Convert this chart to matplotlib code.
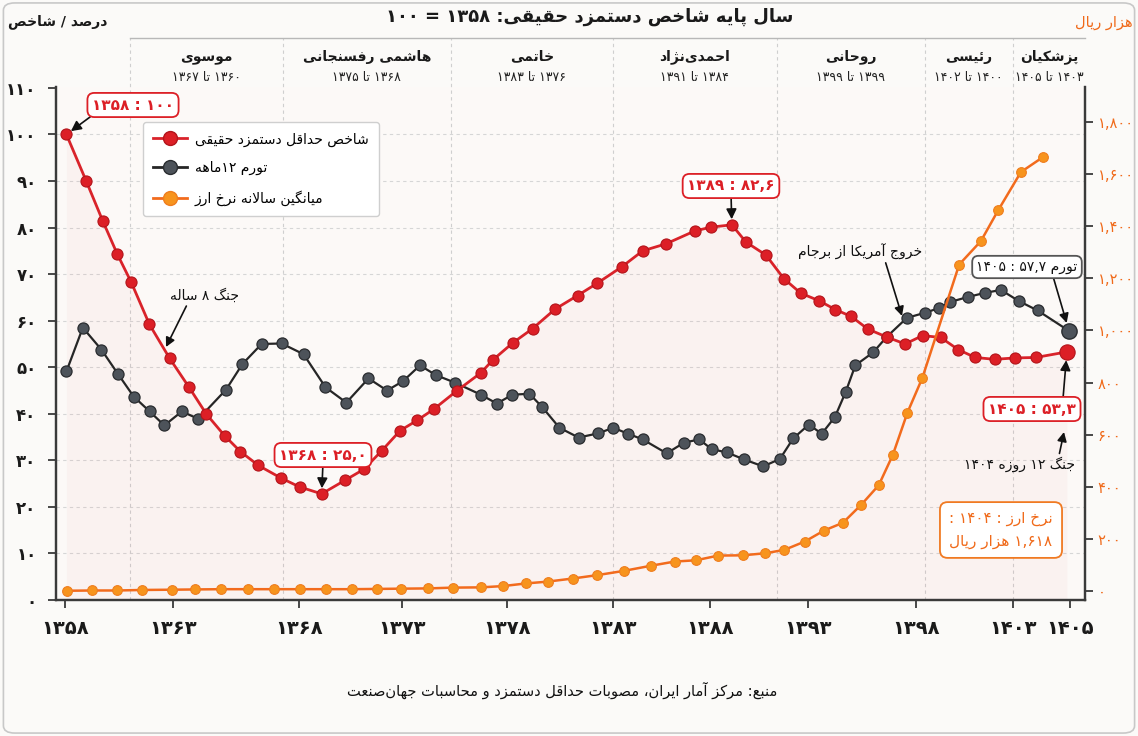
import re
import matplotlib
matplotlib.use("Agg")
import matplotlib.pyplot as plt
import matplotlib.transforms as mtransforms
from matplotlib.lines import Line2D
from matplotlib.patches import FancyBboxPatch

plt.rcParams["font.family"] = ["DejaVu Sans"]

# ---------------- data ----------------
red_x = [1358.00, 1358.92, 1359.70, 1360.39, 1361.04, 1361.90, 1362.85, 1363.76, 1364.58, 1365.43,
         1366.17, 1367.02, 1368.08, 1368.95, 1369.99, 1371.08, 1371.98, 1372.82, 1373.68, 1374.48,
         1375.26, 1376.33, 1377.47, 1378.04, 1378.96, 1379.90, 1380.96, 1382.01, 1382.92, 1384.10,
         1385.07, 1386.16, 1387.53, 1388.30, 1389.26, 1389.92, 1390.86, 1391.71, 1392.50, 1393.35,
         1394.12, 1394.87, 1395.65, 1396.53, 1397.40, 1398.22, 1399.07, 1399.89, 1400.69, 1401.60,
         1402.57, 1403.54, 1405.00]
red_y = [100, 90.1, 81.5, 74.3, 68.3, 59.2, 51.9, 45.7, 39.9, 35.3,
         31.9, 28.9, 26.2, 24.3, 22.8, 25.7, 28.1, 32.1, 36.4, 38.6,
         41.0, 44.9, 48.8, 51.6, 55.2, 58.3, 62.5, 65.4, 68.0, 71.6,
         75.0, 76.5, 79.3, 80.1, 80.6, 76.9, 74.1, 69.0, 65.9, 64.3,
         62.4, 60.9, 58.2, 56.5, 55.0, 56.8, 56.4, 53.8, 52.1, 51.7,
         52.0, 52.1, 53.3]

gray_x = [1358.00, 1358.77, 1359.64, 1360.43, 1361.16, 1361.91, 1362.60, 1363.42, 1364.20, 1365.50,
          1366.27, 1367.17, 1368.11, 1369.14, 1370.17, 1371.15, 1372.19, 1373.06, 1373.81, 1374.61,
          1375.36, 1376.25, 1377.47, 1378.22, 1378.95, 1379.75, 1380.34, 1381.16, 1382.06, 1382.98,
          1383.69, 1384.39, 1385.07, 1386.20, 1387.01, 1387.73, 1388.31, 1389.03, 1389.83, 1390.73,
          1391.52, 1392.14, 1392.88, 1393.48, 1394.10, 1394.60, 1395.06, 1395.90, 1396.53, 1397.48,
          1398.33, 1398.99, 1399.50, 1400.35, 1401.17, 1401.90, 1402.75, 1403.62, 1405.10]
gray_y = [49.1, 58.5, 53.8, 48.5, 43.7, 40.5, 37.5, 40.5, 38.9, 45.2,
          50.7, 55.0, 55.1, 52.8, 45.7, 42.4, 47.6, 45.0, 47.0, 50.4,
          48.3, 46.7, 44.1, 42.2, 44.1, 44.3, 41.5, 37.0, 34.9, 35.8,
          37.0, 35.7, 34.5, 31.5, 33.8, 34.5, 32.4, 31.7, 30.2, 28.7,
          30.3, 34.7, 37.7, 35.7, 39.3, 44.6, 50.4, 53.2, 56.5, 60.6,
          61.7, 62.7, 64.0, 65.1, 66.0, 66.6, 64.2, 62.2, 57.8]

orange_x = [1358.04, 1359.22, 1360.38, 1361.57, 1362.94, 1364.05, 1365.28, 1366.51, 1367.76, 1368.97,
            1370.21, 1371.43, 1372.59, 1373.72, 1375.00, 1376.14, 1377.48, 1378.52, 1379.58, 1380.60,
            1381.79, 1382.94, 1384.17, 1385.46, 1386.57, 1387.58, 1388.62, 1389.78, 1390.84, 1391.73,
            1392.69, 1393.59, 1394.48, 1395.35, 1396.16, 1396.82, 1397.51, 1398.21, 1399.94, 1400.96,
            1401.77, 1402.84, 1403.87]
orange_y = [1, 2, 2, 4, 5, 6, 7, 7, 7, 7,
            7, 7, 8, 9, 10, 13, 14, 19, 29, 36,
            48, 61, 77, 97, 113, 118, 136, 137, 145, 158,
            190, 232, 262, 332, 406, 522, 685, 818, 1253, 1343,
            1461, 1608, 1665]

xtick_pos = [1357.92, 1362.99, 1368.92, 1373.75, 1378.72, 1383.66, 1388.24, 1392.85, 1397.93, 1402.45, 1405.14]
xtick_labels = ["۱۳۵۸", "۱۳۶۳", "۱۳۶۸", "۱۳۷۳", "۱۳۷۸", "۱۳۸۳", "۱۳۸۸", "۱۳۹۳", "۱۳۹۸", "۱۴۰۳", "۱۴۰۵"]
left_ticks = [0, 10, 20, 30, 40, 50, 60, 70, 80, 90, 100, 110]
right_ticks = [0, 200, 400, 600, 800, 1000, 1200, 1400, 1600, 1800]

term_names = ["موسوی", "هاشمی رفسنجانی", "خاتمی", "احمدی\u200cنژاد", "روحانی", "رئیسی", "پزشکیان"]
term_years = ["۱۳۶۰ تا ۱۳۶۷", "۱۳۶۸ تا ۱۳۷۵", "۱۳۷۶ تا ۱۳۸۳", "۱۳۸۴ تا ۱۳۹۱",
              "۱۳۹۹ تا ۱۳۹۹", "۱۴۰۰ تا ۱۴۰۲", "۱۴۰۳ تا ۱۴۰۵"]
term_edges = [1360.98, 1368.17, 1376.06, 1383.67, 1391.37, 1398.32, 1402.45, 1405.85]

legend_labels = ["شاخص حداقل دستمزد حقیقی", "تورم ۱۲ماهه", "میانگین سالانه نرخ ارز"]

RED = "#dc1f26"
GRAY = "#4d535a"
ORANGE = "#f7941d"
ORANGE_TXT = "#f06a1a"

# ---------------- Persian shaping (presentation forms) + simple bidi ----------------
_F = {
    "ا": "\ufe8d\ufe8e", "آ": "\ufe81\ufe82", "د": "\ufea9\ufeaa", "ذ": "\ufeab\ufeac",
    "ر": "\ufead\ufeae", "ز": "\ufeaf\ufeb0", "ژ": "\ufb8a\ufb8b", "و": "\ufeed\ufeee",
    "\ufefb": "\ufefb\ufefc", "\ufef5": "\ufef5\ufef6",
    "ب": "\ufe8f\ufe90\ufe91\ufe92", "پ": "\ufb56\ufb57\ufb58\ufb59", "ت": "\ufe95\ufe96\ufe97\ufe98",
    "ث": "\ufe99\ufe9a\ufe9b\ufe9c", "ج": "\ufe9d\ufe9e\ufe9f\ufea0", "چ": "\ufb7a\ufb7b\ufb7c\ufb7d",
    "ح": "\ufea1\ufea2\ufea3\ufea4", "خ": "\ufea5\ufea6\ufea7\ufea8", "س": "\ufeb1\ufeb2\ufeb3\ufeb4",
    "ش": "\ufeb5\ufeb6\ufeb7\ufeb8", "ص": "\ufeb9\ufeba\ufebb\ufebc", "ض": "\ufebd\ufebe\ufebf\ufec0",
    "ط": "\ufec1\ufec2\ufec3\ufec4", "ظ": "\ufec5\ufec6\ufec7\ufec8", "ع": "\ufec9\ufeca\ufecb\ufecc",
    "غ": "\ufecd\ufece\ufecf\ufed0", "ف": "\ufed1\ufed2\ufed3\ufed4", "ق": "\ufed5\ufed6\ufed7\ufed8",
    "ک": "\ufb8e\ufb8f\ufb90\ufb91", "گ": "\ufb92\ufb93\ufb94\ufb95", "ل": "\ufedd\ufede\ufedf\ufee0",
    "م": "\ufee1\ufee2\ufee3\ufee4", "ن": "\ufee5\ufee6\ufee7\ufee8", "ه": "\ufee9\ufeea\ufeeb\ufeec",
    "ی": "\ufbfc\ufbfd\ufbfe\ufbff", "ئ": "\ufe89\ufe8a\ufe8b\ufe8c",
}
_DIG = "0123456789۰۱۲۳۴۵۶۷۸۹"


def shape(s):
    s = s.replace("لا", "\ufefb").replace("لآ", "\ufef5")
    out = []
    for i, c in enumerate(s):
        f = _F.get(c)
        if f is None:
            if c != "\u200c":
                out.append(c)
            continue
        p = s[i - 1] if i > 0 else ""
        q = s[i + 1] if i + 1 < len(s) else ""
        jp = p in _F and len(_F[p]) == 4
        jn = len(f) == 4 and q in _F
        out.append(f[(1 if jp else 0) + (2 if jn else 0)])
    return "".join(out)


def fa(s):
    lines = []
    for line in s.split("\n"):
        line = shape(line)
        runs = re.findall(r"[0-9۰-۹]+(?:[.,٫][0-9۰-۹]+)*|[^0-9۰-۹]+", line)
        lines.append("".join(r if r[0] in _DIG else r[::-1] for r in reversed(runs)))
    return "\n".join(lines)


def fa_num(n):
    return f"{n:,}".translate(str.maketrans("0123456789", "۰۱۲۳۴۵۶۷۸۹"))


def P(x, y):
    # figure pixel position measured from the top-left corner
    return (x, 736 - y)


# ---------------- figure ----------------
fig = plt.figure(figsize=(11.38, 7.36), dpi=100, facecolor="#fbfaf8")
fig.patches.append(FancyBboxPatch((0.003, 0.004), 0.994, 0.992, boxstyle="round,pad=0,rounding_size=0.01",
                                  transform=fig.transFigure, fill=False, ec="#c8c8c8", lw=1.2))
ax = fig.add_axes([56 / 1138, 136 / 736, 1029 / 1138, 513 / 736])
ax.set_facecolor("#fcf9f7")
ax2 = ax.twinx()

ax.set_xlim(1357.51, 1405.85)
ax.set_ylim(0, 110.2)
ax2.set_ylim(-34.5, 1934.3)

# grid
for yt in left_ticks[1:-1]:
    ax.axhline(yt, color="#d6d6d6", lw=0.8, ls=(0, (3, 3)), zorder=0)
blend = mtransforms.blended_transform_factory(ax.transData, ax.transAxes)
for e in term_edges[:-1]:
    ax.plot([e, e], [0, 1.0955], transform=blend, clip_on=False, color="#cfcfcf", lw=0.8,
            ls=(0, (3, 3)), zorder=0)
ax.plot([term_edges[0], term_edges[-1]], [1.0955, 1.0955], transform=blend, clip_on=False,
        color="#b8b8b8", lw=1.0, zorder=0)

# header with terms
for i, (name, yrs) in enumerate(zip(term_names, term_years)):
    xc = (term_edges[i] + term_edges[i + 1]) / 2
    ax.text(xc, 1.059, fa(name), transform=blend, ha="center", va="center", fontsize=10,
            fontweight="bold", color="#1a1a1a")
    ax.text(xc, 1.019, fa(yrs), transform=blend, ha="center", va="center", fontsize=9, color="#222222")

# series
ax.fill_between(red_x, red_y, 0, color=RED, alpha=0.03, lw=0, zorder=1)
ax.plot(gray_x, gray_y, color="#262626", lw=1.6, marker="o", ms=8, mfc=GRAY, mec="#2a2d30", mew=0.9, zorder=3)
ax.plot(gray_x[-1], gray_y[-1], "o", ms=11, mfc=GRAY, mec="#2a2d30", mew=1, zorder=3)
ax.plot(red_x, red_y, color="#d9232a", lw=2.0, marker="o", ms=8, mfc=RED, mec="#b3151b", mew=0.8, zorder=4)
ax.plot(red_x[-1], red_y[-1], "o", ms=11, mfc=RED, mec="#b3151b", mew=0.8, zorder=4)
ax2.plot(orange_x, orange_y, color="#f26b1d", lw=1.8, marker="o", ms=7, mfc=ORANGE, mec="#ef7d1e",
         mew=0.8, zorder=3)

# axes styling
for side in ["left", "bottom", "right"]:
    ax.spines[side].set_color("#3a3a3a")
    ax.spines[side].set_linewidth(1.6)
    ax2.spines[side].set_color("#3a3a3a")
    ax2.spines[side].set_linewidth(1.6)
ax.spines["top"].set_visible(False)
ax2.spines["top"].set_visible(False)

ax.set_xticks(xtick_pos)
ax.set_xticklabels(xtick_labels, fontsize=14, fontweight="bold", color="#1a1a1a")
ax.set_yticks(left_ticks)
ax.set_yticklabels([fa_num(v) for v in left_ticks], fontsize=12, fontweight="bold", color="#1a1a1a")
ax2.set_yticks(right_ticks)
ax2.set_yticklabels([fa_num(v) for v in right_ticks], fontsize=10.5, color=ORANGE_TXT)
ax.tick_params(axis="x", length=6, width=1.3, color="#3a3a3a", pad=8)
ax.tick_params(axis="y", length=6, width=1.3, color="#3a3a3a", pad=8)
ax2.tick_params(axis="y", length=6, width=1.3, color="#3a3a3a", pad=3)

# legend
handles = [
    Line2D([0], [0], color="#d9232a", lw=2, marker="o", ms=10, mfc=RED, mec="#b3151b"),
    Line2D([0], [0], color="#262626", lw=2, marker="o", ms=10, mfc=GRAY, mec="#2a2d30"),
    Line2D([0], [0], color="#f26b1d", lw=2, marker="o", ms=10, mfc=ORANGE, mec="#ef7d1e"),
]
leg = ax2.legend(handles, [fa(s) for s in legend_labels], loc="upper left",
                 bbox_to_anchor=(136 / 1138, 1 - 115 / 736), bbox_transform=fig.transFigure,
                 fontsize=10, frameon=True, fancybox=True, framealpha=1, facecolor="white",
                 edgecolor="#cfcfcf", handlelength=2.4, handletextpad=0.6, labelspacing=1.05, borderpad=0.75)
leg.get_frame().set_linewidth(1.0)

# annotations
ARW = dict(arrowstyle="-|>,head_length=0.55,head_width=0.28", color="#111111", lw=1.2, shrinkA=0, shrinkB=4)


def box(ec):
    return dict(boxstyle="round,pad=0.3,rounding_size=0.45", fc="white", ec=ec, lw=1.3)


ax.annotate(fa("۱۰۰ : ۱۳۵۸"), xy=(red_x[0], red_y[0]), xytext=P(133, 105), textcoords="figure pixels",
            ha="center", va="center", fontsize=11, fontweight="bold", color=RED, bbox=box(RED),
            arrowprops=dict(ARW, relpos=(0.05, 0)), zorder=6)
ax.annotate(fa("۲۵,۰ : ۱۳۶۸"), xy=(red_x[14], red_y[14]), xytext=P(323, 455), textcoords="figure pixels",
            ha="center", va="center", fontsize=11, fontweight="bold", color=RED, bbox=box(RED),
            arrowprops=dict(ARW, relpos=(0.5, 0)), zorder=6)
ax.annotate(fa("۸۲,۶ : ۱۳۸۹"), xy=(red_x[34], red_y[34]), xytext=P(731, 186), textcoords="figure pixels",
            ha="center", va="center", fontsize=11, fontweight="bold", color=RED, bbox=box(RED),
            arrowprops=dict(ARW, relpos=(0.5, 0)), zorder=6)
ax.annotate(fa("۵۳,۳ : ۱۴۰۵"), xy=(red_x[-1], red_y[-1]), xytext=P(1032, 409), textcoords="figure pixels",
            ha="center", va="center", fontsize=11, fontweight="bold", color=RED, bbox=box(RED),
            arrowprops=dict(ARW, relpos=(0.85, 1), shrinkB=6), zorder=6)
ax.annotate(fa("تورم ۵۷,۷ : ۱۴۰۵"), xy=(gray_x[-1], gray_y[-1]), xytext=P(1027, 267),
            textcoords="figure pixels", ha="center", va="center", fontsize=10, color="#111111",
            bbox=box("#555555"), arrowprops=dict(ARW, relpos=(0.75, 0), shrinkB=6), zorder=6)
ax.annotate(fa("جنگ ۱۲ روزه ۱۴۰۴"), xy=P(1064, 432), xycoords="figure pixels", xytext=P(1020, 464),
            textcoords="figure pixels", ha="center", va="center", fontsize=10, color="#111111",
            arrowprops=dict(ARW, relpos=(0.85, 1), shrinkB=0), zorder=6)
ax.annotate(fa("جنگ ۸ ساله"), xy=P(166, 347), xycoords="figure pixels", xytext=P(205, 296),
            textcoords="figure pixels", ha="center", va="center", fontsize=10, color="#111111",
            arrowprops=dict(ARW, relpos=(0.25, 0), shrinkB=0), zorder=6)
ax.annotate(fa("خروج آمریکا از برجام"), xy=P(902, 316), xycoords="figure pixels", xytext=P(860, 252),
            textcoords="figure pixels", ha="center", va="center", fontsize=10, color="#111111",
            arrowprops=dict(ARW, relpos=(0.7, 0), shrinkB=0), zorder=6)
ax.annotate(fa("نرخ ارز : ۱۴۰۴ :\n۱,۶۱۸ هزار ریال"), xy=P(1001, 530), xycoords="figure pixels",
            ha="center", va="center", fontsize=11, color=ORANGE_TXT, linespacing=1.6,
            bbox=dict(boxstyle="round,pad=0.6,rounding_size=0.5", fc="white", ec="#f07a22", lw=1.3), zorder=6)

# titles and notes
fig.text(590 / 1138, 1 - 17 / 736, fa("سال پایه شاخص دستمزد حقیقی: ۱۳۵۸ = ۱۰۰"), ha="center", va="center",
         fontsize=13, fontweight="bold", color="#1a1a1a")
fig.text(58 / 1138, 1 - 22 / 736, fa("درصد / شاخص"), ha="center", va="center", fontsize=10,
         fontweight="bold", color="#1a1a1a")
fig.text(1133 / 1138, 1 - 23 / 736, fa("هزار ریال"), ha="right", va="center", fontsize=10.5, color=ORANGE_TXT)
fig.text(562 / 1138, 1 - 690 / 736, fa("منبع: مرکز آمار ایران، مصوبات حداقل دستمزد و محاسبات جهان\u200cصنعت"),
         ha="center", va="center", fontsize=10.5, color="#111111")

fig.savefig("out.png", dpi=100, facecolor=fig.get_facecolor())
